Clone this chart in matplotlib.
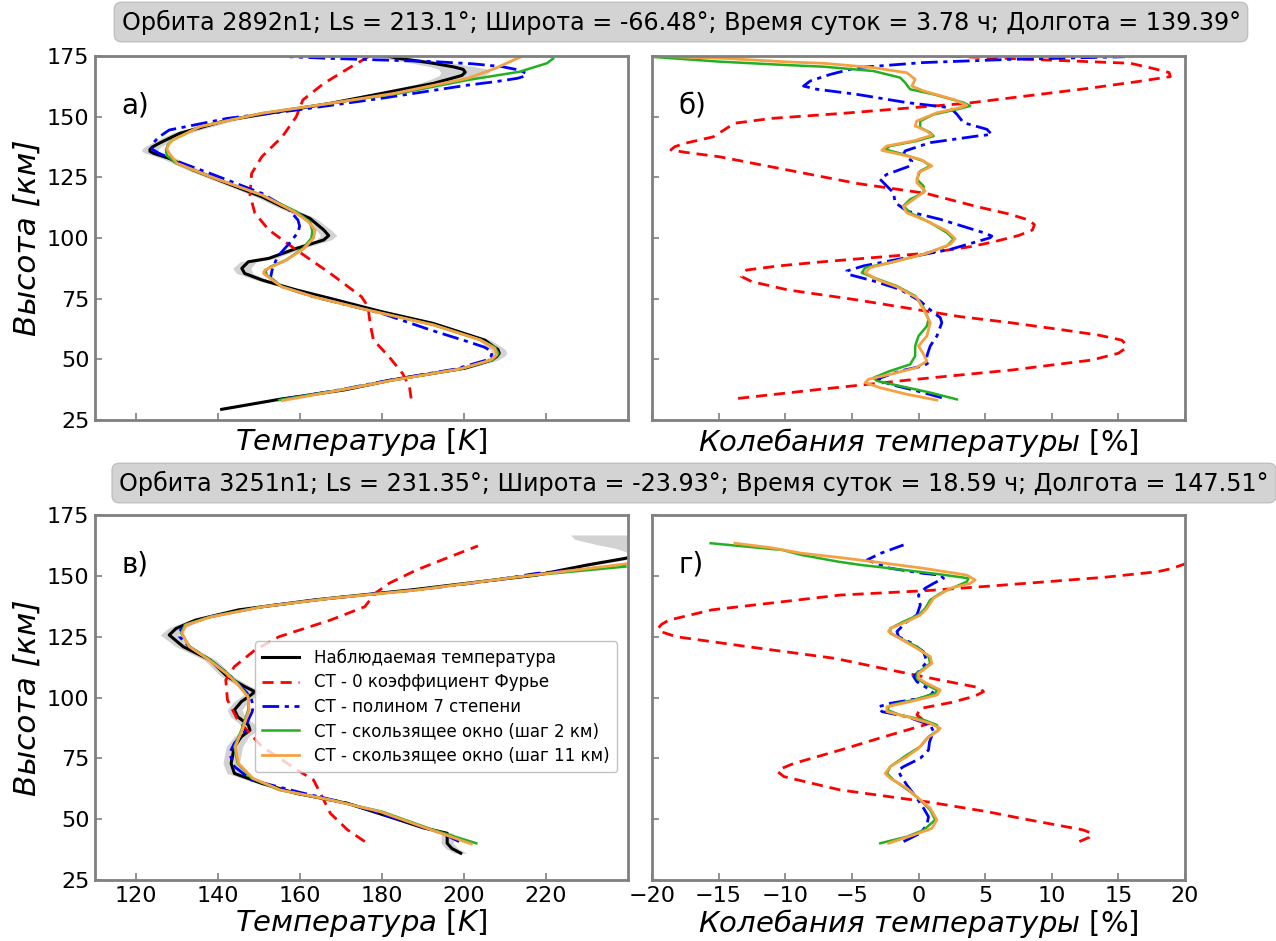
import numpy as np
import matplotlib
matplotlib.use("Agg")
import matplotlib.pyplot as plt

plt.rcParams['font.family'] = ['DejaVu Sans']
plt.rcParams['mathtext.fontset'] = 'dejavusans'

# ---------------- orbit 2892n1 : temperature profiles (h [km], T [K]) ----------------
a_obs_h = [29.4, 33.5, 37.4, 41.5, 46.3, 49.7, 51.2, 52.5, 54.0, 55.5, 57.9, 64.8, 69.6, 75.1, 78.6, 82.7,
           85.4, 87.5, 90.2, 91.6, 95.7, 99.2, 101.0, 103.3, 108.1, 112.9, 117.0, 122.5, 128.0, 132.8, 134.9,
           135.7, 136.5, 137.5, 139.0, 143.1, 148.6, 152.1, 155.5, 159.6, 163.7, 165.8, 167.0, 168.3, 169.5,
           170.5, 172.0, 174.0, 176.0]
a_obs_T = [140.9, 154.9, 170.8, 182.5, 200.1, 206.8, 208.0, 208.6, 208.3, 207.0, 205.1, 192.5, 180.0, 167.4,
           159.1, 150.7, 146.5, 145.8, 147.4, 152.4, 159.1, 165.8, 167.0, 165.8, 162.4, 155.7, 150.7, 142.3,
           134.0, 128.1, 124.3, 123.4, 123.4, 124.0, 125.6, 130.6, 142.3, 154.9, 167.4, 180.0, 192.5, 197.0,
           199.5, 200.3, 199.8, 197.5, 192.5, 184.2, 178.0]
a_obs_err = [1.0, 1.0, 1.0, 1.0, 1.2, 1.5, 1.8, 1.8, 1.8, 1.8, 1.5, 1.2, 1.2, 1.2, 1.2, 1.5,
             2.0, 2.2, 2.0, 1.5, 1.5, 1.8, 2.0, 1.8, 1.5, 1.5, 1.5, 1.5, 1.5, 1.8, 2.0,
             2.0, 2.0, 2.0, 2.0, 2.0, 2.0, 2.0, 2.0, 2.5, 3.5, 4.5, 5.5, 6.0, 6.0,
             5.5, 5.0, 4.0, 3.0]

a_four_h = [33.9, 38.7, 44.2, 51.1, 58.0, 64.8, 71.7, 75.8, 85.4, 95.1, 103.3, 110.2, 117.7, 126.6,
            133.5, 141.8, 150.0, 156.9, 163.7, 170.6, 175.5]
a_four_T = [187.1, 186.7, 185.0, 181.7, 177.9, 177.1, 176.6, 175.0, 167.4, 159.1, 152.4, 149.0, 147.8, 148.2,
            150.7, 155.7, 159.1, 160.7, 165.8, 172.5, 177.5]

a_poly_h = [33.5, 37.5, 41.5, 46.0, 49.7, 51.5, 53.2, 55.0, 57.3, 62.0, 68.9, 75.8, 79.9, 83.5, 86.8, 92.3,
            97.8, 102.5, 105.0, 107.4, 112.2, 118.4, 126.6, 131.0, 134.9, 136.5, 138.0, 139.5, 141.5, 144.5,
            149.3, 152.7, 157.6, 163.0, 164.5, 165.8, 166.8, 167.9, 169.2, 170.6, 171.8, 172.7, 174.0, 174.7]
a_poly_T = [155.5, 170.0, 182.0, 198.0, 205.5, 206.7, 206.8, 205.0, 200.9, 192.0, 180.0, 163.3, 155.7, 152.8,
            153.2, 154.5, 157.4, 159.6, 159.9, 159.5, 157.0, 150.7, 138.1, 131.0, 125.6, 124.0, 123.8, 124.4,
            125.5, 128.1, 142.3, 159.1, 180.0, 200.9, 208.0, 213.0, 215.0, 215.1, 213.5, 209.3, 202.0, 192.5,
            167.4, 157.4]

a_win2_h = [33.2, 37.5, 41.5, 46.0, 49.7, 52.5, 55.0, 58.0, 64.2, 70.6, 75.8, 79.9, 84.7, 86.5, 88.2, 90.9,
            95.7, 100.0, 103.0, 106.7, 110.9, 117.7, 125.3, 130.8, 134.0, 136.3, 138.5, 140.4, 145.9, 151.4,
            155.5, 159.6, 165.1, 168.5, 172.0, 174.0, 175.5]
a_win2_T = [154.9, 170.0, 183.0, 199.0, 207.0, 208.4, 207.5, 204.0, 192.5, 175.8, 163.3, 155.7, 151.9, 151.6,
            152.8, 156.6, 160.7, 162.8, 163.0, 162.4, 159.1, 150.7, 138.1, 129.8, 127.5, 127.3, 127.8, 128.9,
            135.6, 150.7, 167.4, 184.2, 200.9, 213.5, 220.2, 221.8, 221.0]

a_win11_h = [33.0, 37.5, 41.5, 46.0, 49.7, 51.8, 54.5, 58.0, 64.2, 70.6, 75.8, 79.9, 85.4, 86.8, 88.2, 91.0,
             95.7, 100.0, 103.3, 106.7, 110.9, 117.7, 125.3, 130.8, 134.9, 136.8, 138.6, 140.4, 145.9, 151.4,
             155.5, 159.6, 165.8, 169.9, 175.0]
a_win11_T = [155.7, 170.5, 183.0, 199.0, 206.5, 208.0, 207.5, 204.0, 192.5, 175.8, 163.3, 155.5, 151.1, 151.4,
             153.2, 156.8, 161.0, 163.3, 163.7, 162.0, 158.5, 150.7, 138.1, 130.0, 128.1, 127.5, 128.0, 129.0,
             135.6, 150.7, 167.4, 183.0, 200.9, 207.6, 214.3]

# ---------------- orbit 2892n1 : fluctuations (h [km], dT [%]) ----------------
b_four_h = [33.9, 36.3, 37.4, 41.5, 45.6, 49.7, 52.5, 54.5, 56.5, 57.9, 60.0, 62.1, 65.1, 67.6, 74.5, 78.6,
            82.0, 84.1, 85.8, 86.8, 88.5, 90.2, 93.7, 96.5, 98.5, 101.0, 103.3, 105.5, 107.4, 110.0, 112.9,
            118.4, 122.5, 128.0, 133.5, 135.3, 136.3, 137.6, 139.0, 141.7, 144.5, 147.3, 149.3, 151.4, 155.5,
            161.7, 164.5, 166.5, 168.2, 170.0, 172.0, 174.0, 175.2]
b_four_v = [-13.54, -9.6, -7.8, -0.7, 7.0, 13.0, 15.0, 15.52, 15.5, 15.26, 13.5, 10.87, 6.9, 3.12, -4.63,
            -9.8, -12.5, -13.28, -13.1, -12.9, -10.5, -7.2, 0.54, 4.0, 5.7, 7.5, 8.55, 8.7, 8.29, 6.7, 4.41,
            0.54, -4.63, -9.8, -14.96, -17.5, -18.58, -18.3, -17.55, -15.4, -14.6, -13.8, -11.0, -5.6, 3.6,
            12.8, 16.5, 18.9, 18.8, 17.5, 15.9, 6.65, 1.0]

b_poly_h = [34.2, 37.0, 39.7, 41.8, 45.2, 47.3, 48.6, 51.4, 55.5, 59.6, 65.1, 67.2, 69.2, 74.0, 78.8, 82.3,
            85.0, 86.4, 88.5, 91.9, 95.3, 100.1, 100.8, 102.2, 107.7, 111.1, 114.6, 118.7, 121.4, 124.2, 126.2,
            129.7, 131.7, 134.5, 135.9, 139.3, 142.0, 142.7, 144.8, 147.5, 151.0, 153.7, 155.8, 159.2, 161.3,
            162.6, 164.7, 167.4, 170.2, 172.3, 173.6, 174.7]
b_poly_v = [1.75, -0.13, -2.13, -3.13, -1.38, 0.38, 0.75, 0.63, 0.88, 1.38, 1.75, 1.63, 1.13, 0.13, -1.38,
            -3.38, -5.25, -5.38, -4.13, -0.88, 2.38, 5.38, 5.5, 4.88, 1.63, -0.88, -1.75, -1.88, -2.38, -2.88,
            -2.38, -0.63, -0.5, -1.13, -1.0, 0.88, 4.38, 5.5, 5.13, 3.38, 2.88, 2.38, -0.88, -4.63, -7.63,
            -8.63, -8.13, -6.63, -4.63, 0.38, 6.88, 15.5]

b_win2_h = [33.5, 36.3, 39.0, 41.1, 42.4, 45.2, 47.9, 51.4, 55.5, 59.6, 63.7, 66.5, 71.3, 76.1, 80.2, 83.7,
            85.7, 87.8, 89.8, 93.3, 96.7, 99.5, 102.2, 106.3, 110.4, 113.2, 115.9, 118.7, 121.4, 124.2, 127.6,
            129.7, 131.7, 134.5, 136.5, 137.9, 140.0, 142.0, 143.4, 145.5, 148.2, 150.9, 153.0, 154.4, 155.8,
            159.2, 161.3, 164.0, 166.1, 168.8, 170.6, 171.2, 172.7, 174.7]
b_win2_v = [2.88, 0.88, -1.38, -3.13, -3.38, -2.13, -0.63, -0.25, -0.25, 0.0, 0.63, 0.75, 0.38, -0.25, -1.63,
            -3.38, -4.25, -4.0, -2.13, 0.38, 2.13, 2.63, 2.13, 0.88, -0.63, -1.13, -0.63, 0.38, 0.38, -0.13,
            0.13, 0.88, 0.38, -1.13, -2.5, -2.13, -0.13, 1.13, 0.88, 0.13, 0.13, 1.13, 2.88, 3.88, 3.38,
            1.13, -0.63, -1.0, -1.38, -3.38, -7.13, -9.63, -15.0, -20.13]

b_win11_h = [33.2, 35.6, 38.3, 40.4, 41.8, 43.8, 46.6, 49.3, 52.1, 55.5, 59.6, 65.1, 70.6, 75.4, 79.9, 83.0,
             85.7, 87.8, 90.5, 93.7, 97.4, 99.7, 102.9, 107.0, 110.4, 112.9, 115.9, 119.4, 122.8, 126.9, 129.7,
             132.4, 134.5, 136.1, 137.9, 140.0, 142.3, 144.1, 146.2, 148.2, 151.6, 153.7, 154.7, 157.1, 160.6,
             162.6, 165.4, 168.1, 170.2, 172.0, 172.5, 174.0, 175.0]
b_win11_v = [1.38, -0.88, -2.88, -4.0, -3.75, -2.13, -0.13, 0.63, 0.38, 0.0, 0.63, 0.88, 0.38, -0.13, -1.63,
             -3.13, -4.0, -3.63, -1.63, 0.63, 2.38, 2.75, 2.13, 0.63, -0.88, -1.13, -0.38, 0.5, -0.13, 0.0,
             1.0, 0.13, -1.38, -2.75, -2.38, -0.38, 1.0, 0.63, -0.25, -0.13, 1.38, 3.13, 3.63, 2.63, 0.38,
             -0.5, -0.25, -0.88, -3.38, -7.13, -9.63, -14.5, -20.13]

# ---------------- orbit 3251n1 : temperature profiles ----------------
c_obs_h = [36.0, 38.0, 40.1, 44.2, 46.5, 49.7, 56.5, 60.6, 64.7, 68.8, 72.9, 79.8, 83.9, 86.6, 88.7, 92.1,
           94.9, 98.3, 101.0, 102.4, 104.5, 108.6, 115.4, 120.9, 125.7, 128.4, 131.8, 136.0, 140.1, 144.2,
           147.6, 150.3, 154.5, 157.2, 159.0, 161.3, 163.0, 165.0, 166.8]
c_obs_T = [199.2, 197.0, 195.9, 195.9, 190.0, 184.2, 171.6, 159.1, 150.7, 144.0, 143.2, 144.0, 145.7, 147.8,
           147.4, 144.8, 144.0, 145.7, 148.0, 149.0, 146.5, 142.3, 138.1, 131.5, 128.1, 129.8, 134.5, 145.0,
           163.5, 187.0, 204.0, 217.7, 230.2, 239.4, 244.0, 250.0, 254.0, 258.0, 262.0]
c_obs_err = [1.5, 1.5, 1.5, 1.5, 1.2, 1.0, 1.0, 1.0, 1.2, 1.8, 2.0, 2.0, 1.8, 1.8, 1.8, 1.8,
             1.8, 1.8, 1.8, 1.8, 1.5, 1.5, 1.5, 1.8, 2.2, 2.0, 1.5, 1.5, 1.5, 1.5,
             1.5, 1.5, 1.8, 2.0, 3.0, 13.0, 22.0, 31.0, 36.0]

c_four_h = [40.8, 45.6, 52.4, 57.9, 66.1, 68.8, 79.8, 90.8, 99.0, 107.2, 112.7, 119.5, 125.0, 131.8, 137.3,
            142.8, 146.9, 152.4, 157.9, 162.3]
c_four_T = [175.8, 171.6, 167.4, 165.8, 163.3, 160.7, 150.7, 144.8, 142.3, 141.9, 144.0, 149.0, 154.9, 167.4,
            175.8, 178.3, 181.7, 188.4, 196.7, 203.4]

c_poly_h = [40.8, 44.0, 49.7, 56.5, 61.0, 66.1, 71.6, 77.1, 81.2, 86.0, 90.8, 94.0, 96.2, 99.0, 102.0, 105.8,
            109.9, 115.4, 120.9, 125.0, 127.1, 129.8, 133.2, 137.3, 140.8, 144.2, 147.6, 151.0, 154.3]
c_poly_T = [198.8, 195.0, 184.5, 171.6, 160.0, 148.2, 144.0, 142.8, 144.0, 146.5, 147.4, 148.3, 148.6, 148.2,
            147.0, 144.8, 142.3, 138.1, 133.0, 130.6, 130.6, 132.0, 138.1, 150.7, 167.4, 188.4, 205.0, 217.7, 239.4]

c_win2_h = [40.1, 45.6, 53.1, 57.9, 62.0, 66.8, 72.9, 79.8, 86.6, 94.9, 100.3, 105.8, 109.9, 115.4, 120.9,
            126.4, 129.8, 133.2, 137.3, 140.8, 144.2, 149.7, 153.8]
c_win2_T = [203.0, 192.5, 180.0, 167.4, 154.9, 148.2, 144.8, 144.0, 145.7, 147.4, 147.4, 144.8, 142.3, 138.1,
            133.1, 131.0, 131.9, 138.1, 150.7, 167.4, 188.4, 213.5, 239.4]

c_win11_h = [39.8, 45.6, 53.1, 57.9, 62.0, 66.8, 72.9, 79.8, 86.6, 94.9, 100.3, 105.8, 109.9, 115.4, 120.9,
             126.4, 129.8, 133.2, 137.3, 140.8, 144.2, 149.7, 154.9]
c_win11_T = [201.8, 192.0, 179.5, 167.4, 155.2, 148.5, 145.0, 144.2, 145.9, 147.6, 147.3, 144.6, 142.0, 137.8,
             133.0, 131.2, 132.2, 138.5, 151.0, 167.8, 188.8, 214.0, 239.5]

# ---------------- orbit 3251n1 : fluctuations ----------------
d_four_h = [40.8, 42.5, 44.2, 45.6, 50.0, 53.1, 57.0, 62.0, 65.0, 67.5, 69.5, 71.0, 72.9, 78.4, 84.0, 89.4,
            91.0, 92.8, 95.5, 98.0, 100.5, 102.4, 104.0, 107.2, 111.3, 116.1, 120.9, 125.0, 127.0, 128.4,
            130.0, 131.8, 136.0, 142.1, 143.9, 145.8, 149.4, 151.7, 153.0, 155.1]
d_four_v = [12.07, 12.8, 13.0, 12.34, 8.0, 5.13, 0.8, -5.87, -8.2, -10.1, -10.57, -10.2, -9.36, -5.87, -2.5,
            0.88, 0.3, -0.12, 0.13, 2.5, 4.2, 4.88, 4.6, 1.6, -2.1, -6.3, -12.84, -18.2, -19.3, -19.54,
            -19.3, -18.74, -15.52, -5.87, 0.55, 5.4, 13.94, 17.96, 19.0, 20.1]

d_poly_h = [40.8, 44.2, 47.6, 51.0, 54.5, 58.6, 64.0, 68.2, 70.2, 71.6, 75.0, 78.4, 81.8, 86.0, 88.7, 92.1,
            94.2, 96.2, 97.6, 99.9, 101.7, 103.1, 106.5, 108.6, 111.3, 114.7, 118.8, 122.3, 125.0, 127.1,
            131.2, 133.9, 138.0, 142.1, 144.9, 146.9, 149.0, 150.3, 151.0, 153.1, 156.5, 159.2, 162.7]
d_poly_v = [-1.12, 0.13, 0.63, 0.75, 0.38, -0.12, -0.87, -1.37, -1.5, -1.12, 0.13, 0.75, 0.83, 1.13, 0.88,
            -0.87, -2.75, -3.0, -2.12, 0.38, 1.13, 0.88, -0.12, -0.37, 0.13, 0.63, 0.38, -0.5, -1.5, -1.62,
            -0.87, -0.12, 0.13, 0.0, 0.5, 1.13, 1.88, 1.63, 0.38, -2.12, -3.87, -2.87, -1.12]

d_win2_h = [40.1, 42.8, 45.5, 49.7, 53.8, 57.9, 61.3, 66.1, 68.8, 71.6, 76.4, 79.8, 83.9, 86.6, 88.7, 90.8,
            92.8, 94.9, 96.9, 99.0, 101.7, 103.1, 105.1, 107.9, 109.9, 114.0, 116.8, 120.9, 124.3, 126.4,
            128.4, 131.2, 133.9, 136.6, 140.1, 142.8, 145.5, 147.6, 149.0, 150.6, 153.1, 154.5, 155.8, 158.6,
            160.6, 163.4]
d_win2_v = [-2.87, -0.87, 0.38, 1.25, 0.88, 0.13, -0.62, -1.87, -2.37, -2.12, -0.87, 0.13, 0.75, 1.5, 1.38,
            0.38, -1.37, -2.37, -2.12, -0.37, 1.25, 1.38, 0.63, -0.12, -0.12, 0.88, 0.75, -0.12, -1.37, -2.12,
            -2.12, -1.12, 0.0, 0.5, 0.88, 1.63, 2.75, 3.63, 3.75, 1.63, -2.12, -4.37, -6.0, -8.8,
            -10.2, -15.6]

d_win11_h = [40.1, 43.5, 46.2, 49.7, 54.5, 58.6, 62.7, 66.8, 68.8, 71.6, 75.7, 79.1, 83.2, 86.0, 87.3, 89.4,
             92.1, 94.2, 96.2, 98.3, 101.0, 103.1, 105.8, 107.9, 109.9, 114.0, 116.8, 120.2, 125.0, 127.1,
             128.4, 131.2, 133.9, 136.6, 140.8, 144.9, 146.9, 148.3, 150.3, 153.1, 155.8, 157.5, 159.3, 161.5,
             163.4]
d_win11_v = [-2.25, -0.37, 1.0, 1.38, 0.88, 0.0, -0.87, -2.12, -2.5, -2.12, -0.87, 0.0, 0.63, 1.38, 1.63,
             0.88, -0.87, -2.37, -2.37, -0.62, 1.38, 1.63, 0.63, 0.0, 0.0, 1.0, 0.88, -0.12, -1.62, -2.25,
             -2.12, -0.87, 0.13, 0.63, 1.13, 2.38, 3.88, 4.25, 3.63, 0.38, -3.37, -5.87, -8.8, -11.0,
             -13.78]

titles = ["Орбита 2892n1; Ls = 213.1°; Широта = -66.48°; Время суток = 3.78 ч; Долгота = 139.39°",
          "Орбита 3251n1; Ls = 231.35°; Широта = -23.93°; Время суток = 18.59 ч; Долгота = 147.51°"]
panel_letters = ["а)", "б)", "в)", "г)"]
legend_labels = ["Наблюдаемая температура", "СТ - 0 коэффициент Фурье", "СТ - полином 7 степени",
                 "СТ - скользящее окно (шаг 2 км)", "СТ - скользящее окно (шаг 11 км)"]

C_RED, C_BLUE, C_GREEN, C_ORANGE = "red", "blue", "#22b022", "#f5a142"
DASHED = (0, (4, 2.5))
DASHDOT = (0, (6, 2, 1.5, 2))

fig = plt.figure(figsize=(12.76, 9.41), dpi=100)
W, H = 1276, 941


def add_ax(x0, y0, x1, y1):
    return fig.add_axes([x0 / W, 1 - y1 / H, (x1 - x0) / W, (y1 - y0) / H])


ax_a = add_ax(95, 56, 628, 420)
ax_b = add_ax(652, 56, 1185, 420)
ax_c = add_ax(95, 515, 628, 880)
ax_d = add_ax(652, 515, 1185, 880)


def temp_panel(ax, oh, oT, oe, fh, fT, ph, pT, w2h, w2T, w11h, w11T):
    oh, oT, oe = map(np.asarray, (oh, oT, oe))
    ax.fill_betweenx(oh, oT - oe, oT + oe, color="0.75", alpha=0.7, lw=0)
    ax.plot(oT, oh, color="black", lw=2.2, label=legend_labels[0])
    ax.plot(fT, fh, color=C_RED, lw=2, ls=DASHED, label=legend_labels[1])
    ax.plot(pT, ph, color=C_BLUE, lw=2, ls=DASHDOT, label=legend_labels[2])
    ax.plot(w2T, w2h, color=C_GREEN, lw=1.8, label=legend_labels[3])
    ax.plot(w11T, w11h, color=C_ORANGE, lw=2, label=legend_labels[4])
    ax.set_xlim(110, 240)


def fluct_panel(ax, fh, fv, ph, pv, w2h, w2v, w11h, w11v):
    ax.plot(fv, fh, color=C_RED, lw=2, ls=DASHED)
    ax.plot(pv, ph, color=C_BLUE, lw=2, ls=DASHDOT)
    ax.plot(w2v, w2h, color=C_GREEN, lw=1.8)
    ax.plot(w11v, w11h, color=C_ORANGE, lw=2)
    ax.set_xlim(-20, 20)


temp_panel(ax_a, a_obs_h, a_obs_T, a_obs_err, a_four_h, a_four_T, a_poly_h, a_poly_T,
           a_win2_h, a_win2_T, a_win11_h, a_win11_T)
fluct_panel(ax_b, b_four_h, b_four_v, b_poly_h, b_poly_v, b_win2_h, b_win2_v, b_win11_h, b_win11_v)
temp_panel(ax_c, c_obs_h, c_obs_T, c_obs_err, c_four_h, c_four_T, c_poly_h, c_poly_T,
           c_win2_h, c_win2_T, c_win11_h, c_win11_T)
fluct_panel(ax_d, d_four_h, d_four_v, d_poly_h, d_poly_v, d_win2_h, d_win2_v, d_win11_h, d_win11_v)

for i, ax in enumerate([ax_a, ax_b, ax_c, ax_d]):
    ax.set_ylim(25, 175)
    ax.set_yticks(np.arange(25, 176, 25))
    for s in ax.spines.values():
        s.set_color("#808080")
        s.set_linewidth(2)
    ax.tick_params(direction="in", length=5, width=1.2, color="#808080", labelsize=16, pad=4)
    ax.text(0.05, 0.865, panel_letters[i], transform=ax.transAxes, fontsize=20, va="center", ha="left")

for ax in (ax_a, ax_c):
    ax.set_xticks(np.arange(120, 221, 20))
    ax.set_ylabel("Высота [км]", fontsize=22.5, style="italic", labelpad=4)
for ax in (ax_b, ax_d):
    ax.set_xticks(np.arange(-20, 21, 5))
    ax.tick_params(labelleft=False)
ax_a.tick_params(labelbottom=False)
ax_b.tick_params(labelbottom=False)

temp_label = r"$\mathit{Температура}$ [$\mathit{K}$]"
fluct_label = r"$\mathit{Колебания\ температуры}$ [%]"
ax_a.set_xlabel(temp_label, fontsize=21, labelpad=4)
ax_b.set_xlabel(fluct_label, fontsize=21, labelpad=4)
ax_c.set_xlabel(temp_label, fontsize=21, labelpad=1)
ax_d.set_xlabel(fluct_label, fontsize=21, labelpad=1)

ax_c.legend(loc="center right", bbox_to_anchor=(0.995, 0.475), fontsize=12, frameon=True,
            edgecolor="0.7", handlelength=2.2, borderpad=0.45, labelspacing=0.38, handletextpad=0.9)

box = dict(boxstyle="round,pad=0.3", fc="#d3d3d3", ec="#c0c0c0")
fig.text(681 / W, 1 - 22 / H, titles[0], fontsize=17.2, ha="center", va="center", bbox=box)
fig.text(694 / W, 1 - 483 / H, titles[1], fontsize=17.2, ha="center", va="center", bbox=box)

fig.savefig("out.png", dpi=100)
